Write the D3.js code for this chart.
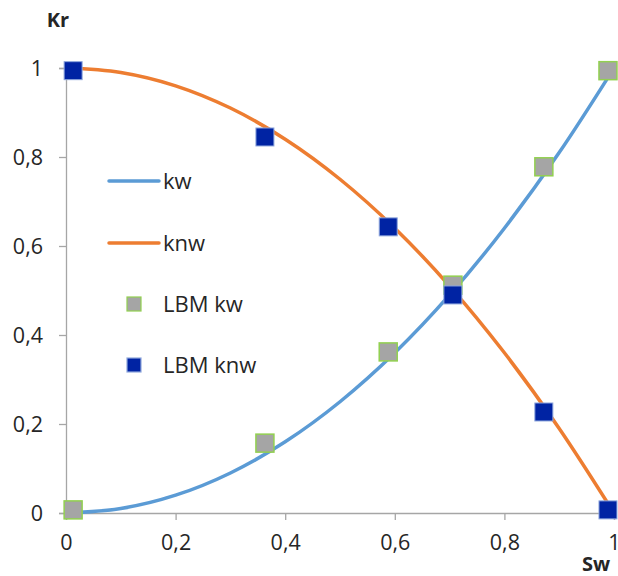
<!DOCTYPE html>
<html>
<head>
<meta charset="utf-8">
<script src="https://cdn.jsdelivr.net/npm/d3@7"></script>
<style>
  body { margin: 0; background: #fff; }
  text { font-family: "Open Sans", "Noto Sans", sans-serif; fill: #262626; }
</style>
</head>
<body>
<div id="chart"></div>
<script>
// data
let swCurve = [0, 0.1, 0.2, 0.3, 0.4, 0.5, 0.6, 0.7, 0.8, 0.9, 1]
let kwCurve = [0, 0.01, 0.04, 0.09, 0.16, 0.25, 0.36, 0.49, 0.64, 0.81, 1]
let knwCurve = [1, 0.99, 0.96, 0.91, 0.84, 0.75, 0.64, 0.51, 0.36, 0.19, 0]

let swLbm = [0.013, 0.363, 0.588, 0.706, 0.872, 0.989]
let kwLbm = [0.007, 0.157, 0.362, 0.512, 0.778, 0.994]
let knwLbm = [0.994, 0.845, 0.643, 0.49, 0.227, 0.007]

let ticks = [0, 0.2, 0.4, 0.6, 0.8, 1]
let legendNames = ["kw", "knw", "LBM kw", "LBM knw"]

let svgWidth = 618
let svgHeight = 576

let svg = d3.select("#chart")
    .append("svg")
    .attr("width", svgWidth)
    .attr("height", svgHeight)

let x = d3.scaleLinear().domain([0, 1]).range([66, 614])
let y = d3.scaleLinear().domain([0, 1]).range([513, 68])

let fmt = d => d3.format("")(d).replace(".", ",")

// axes
let xAxis = svg.append("g")
    .attr("transform", `translate(0, ${y(0)})`)
    .call(d3.axisBottom(x).tickValues(ticks).tickFormat(fmt).tickSize(7).tickPadding(15))
let yAxis = svg.append("g")
    .attr("transform", `translate(${x(0)}, 0)`)
    .call(d3.axisLeft(y).tickValues(ticks).tickFormat(fmt).tickSize(7).tickPadding(16))

svg.selectAll(".domain").attr("stroke", "#a6a6a6").attr("stroke-width", 1.3)
svg.selectAll(".tick line").attr("stroke", "#a6a6a6").attr("stroke-width", 1.3)
svg.selectAll(".tick text").style("font-size", "21.5px").attr("fill", "#262626")
yAxis.selectAll(".tick text").attr("dy", "0.35em")

// axis titles
svg.append("text").attr("x", 58).attr("y", 27)
    .attr("text-anchor", "middle").style("font-size", "20px").style("font-weight", "bold")
    .text("Kr")
svg.append("text").attr("x", 596).attr("y", 571)
    .attr("text-anchor", "middle").style("font-size", "20px").style("font-weight", "bold")
    .text("Sw")

// curves
let line = d3.line().curve(d3.curveMonotoneX)
let kwPts = swCurve.map((s, i) => [x(s), y(kwCurve[i])])
let knwPts = swCurve.map((s, i) => [x(s), y(knwCurve[i])])

svg.append("path").attr("d", line(kwPts))
    .attr("fill", "none").attr("stroke", "#5b9bd5").attr("stroke-width", 3.5)
svg.append("path").attr("d", line(knwPts))
    .attr("fill", "none").attr("stroke", "#ed7d31").attr("stroke-width", 3.5)

// LBM markers
let ms = 18
svg.selectAll(".kwm")
    .data(swLbm)
    .enter()
    .append("rect")
    .attr("class", "kwm")
    .attr("x", (d, i) => x(d) - ms / 2)
    .attr("y", (d, i) => y(kwLbm[i]) - ms / 2)
    .attr("width", ms).attr("height", ms)
    .attr("fill", "#a5a5a5").attr("stroke", "#92d050").attr("stroke-width", 1.5)

svg.selectAll(".knwm")
    .data(swLbm)
    .enter()
    .append("rect")
    .attr("class", "knwm")
    .attr("x", (d, i) => x(d) - ms / 2)
    .attr("y", (d, i) => y(knwLbm[i]) - ms / 2)
    .attr("width", ms).attr("height", ms)
    .attr("fill", "#0023a3").attr("stroke", "#8fa7dd").attr("stroke-width", 1)

// legend
let legY = [181, 243, 304, 365]
let legend = svg.append("g")
legendNames.forEach((name, i) => {
    if (i < 2) {
        legend.append("line")
            .attr("x1", 109).attr("x2", 159)
            .attr("y1", legY[i]).attr("y2", legY[i])
            .attr("stroke", i == 0 ? "#5b9bd5" : "#ed7d31").attr("stroke-width", 3.5)
            .attr("stroke-linecap", "round")
    } else {
        legend.append("rect")
            .attr("x", 127).attr("y", legY[i] - 7)
            .attr("width", 14).attr("height", 14)
            .attr("fill", i == 2 ? "#a5a5a5" : "#0023a3")
            .attr("stroke", i == 2 ? "#92d050" : "#8fa7dd")
            .attr("stroke-width", 1.2)
    }
    legend.append("text")
        .attr("x", 163).attr("y", legY[i])
        .attr("dy", "0.35em")
        .style("font-size", "22px")
        .text(name)
})
</script>
</body>
</html>
